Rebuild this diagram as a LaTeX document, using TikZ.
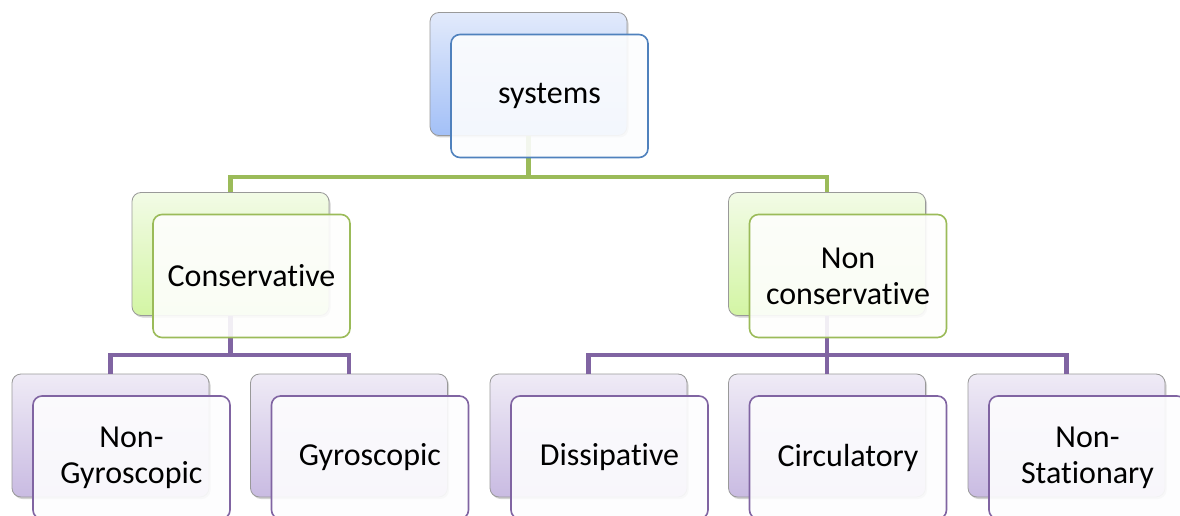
\documentclass[tikz,border=0pt]{standalone}
\usepackage{fontspec}
\setmainfont{Carlito}[Ligatures=NoCommon]
\usepackage{tikz}
\usepackage{xcolor}
\usetikzlibrary{calc}
\usetikzlibrary{shadows}

\definecolor{sysblue}{HTML}{4F81BD}
\definecolor{olive}{HTML}{9BBB59}
\definecolor{lilac}{HTML}{8064A2}
\definecolor{bluetop}{HTML}{E2EAFB}
\definecolor{bluebot}{HTML}{A3C0F7}
\definecolor{greentop}{HTML}{F2FBE6}
\definecolor{greenbot}{HTML}{D3F5A4}
\definecolor{lilactop}{HTML}{EFEBF6}
\definecolor{lilacbot}{HTML}{C9BBE2}

\pgfdeclarelayer{background}
\pgfsetlayers{background,main}

\tikzset{
  box/.style={rounded corners=9pt, minimum width=197pt, minimum height=123pt},
  backbox/.style={box, draw=black!40, line width=0.8pt,
    top color=#1top, bottom color=#1bot,
    drop shadow={opacity=0.35, shadow xshift=1.5pt, shadow yshift=-2pt}},
  frontbox/.style={box, draw=#1, line width=1.6pt, fill=#1!1.5!white,
    fill opacity=0.9, text opacity=1, align=center,
    font=\fontsize{32}{36}\selectfont},
  link/.style={draw=#1, line width=4.5pt}
}

\begin{document}
\begin{tikzpicture}[x=1pt,y=-1pt]
\useasboundingbox (0,0) rectangle (1180,516);

% front boxes
\node[frontbox=sysblue] (sys) at (549.5,96) {systems};
\node[frontbox=olive] (cons) at (251.5,276) {Conservative};
\node[frontbox=olive] (ncons) at (848,276) {Non\\conservative};
\node[frontbox=lilac] (ngyro) at (131.5,457.5) {Non-\\Gyroscopic};
\node[frontbox=lilac] (gyro) at (370,457.5) {Gyroscopic};
\node[frontbox=lilac] (diss) at (609.5,457.5) {Dissipative};
\node[frontbox=lilac] (circ) at (848,457.5) {Circulatory};
\node[frontbox=lilac] (nstat) at (1087.5,457.5) {Non-\\Stationary};

\begin{pgfonlayer}{background}
% back boxes
\foreach \n/\c in {sys/blue, cons/green, ncons/green, ngyro/lilac,
                   gyro/lilac, diss/lilac, circ/lilac, nstat/lilac}
  \node[backbox=\c] (\n-b) at ($(\n)+(-21,-22)$) {};

% connectors
\draw[link=olive] (sys-b.south) -- ++(0,41) coordinate (j1);
\draw[link=olive] (cons-b.north) |- (j1) -| (ncons-b.north);
\draw[link=lilac] (cons-b.south) -- ++(0,39) coordinate (j2);
\draw[link=lilac] (ngyro-b.north) |- (j2) -| (gyro-b.north);
\draw[link=lilac] (ncons-b.south) -- ++(0,39) coordinate (j3);
\draw[link=lilac] (diss-b.north) |- (j3) -| (nstat-b.north);
\draw[link=lilac] (j3) -- (circ-b.north);
\end{pgfonlayer}

\end{tikzpicture}
\end{document}
